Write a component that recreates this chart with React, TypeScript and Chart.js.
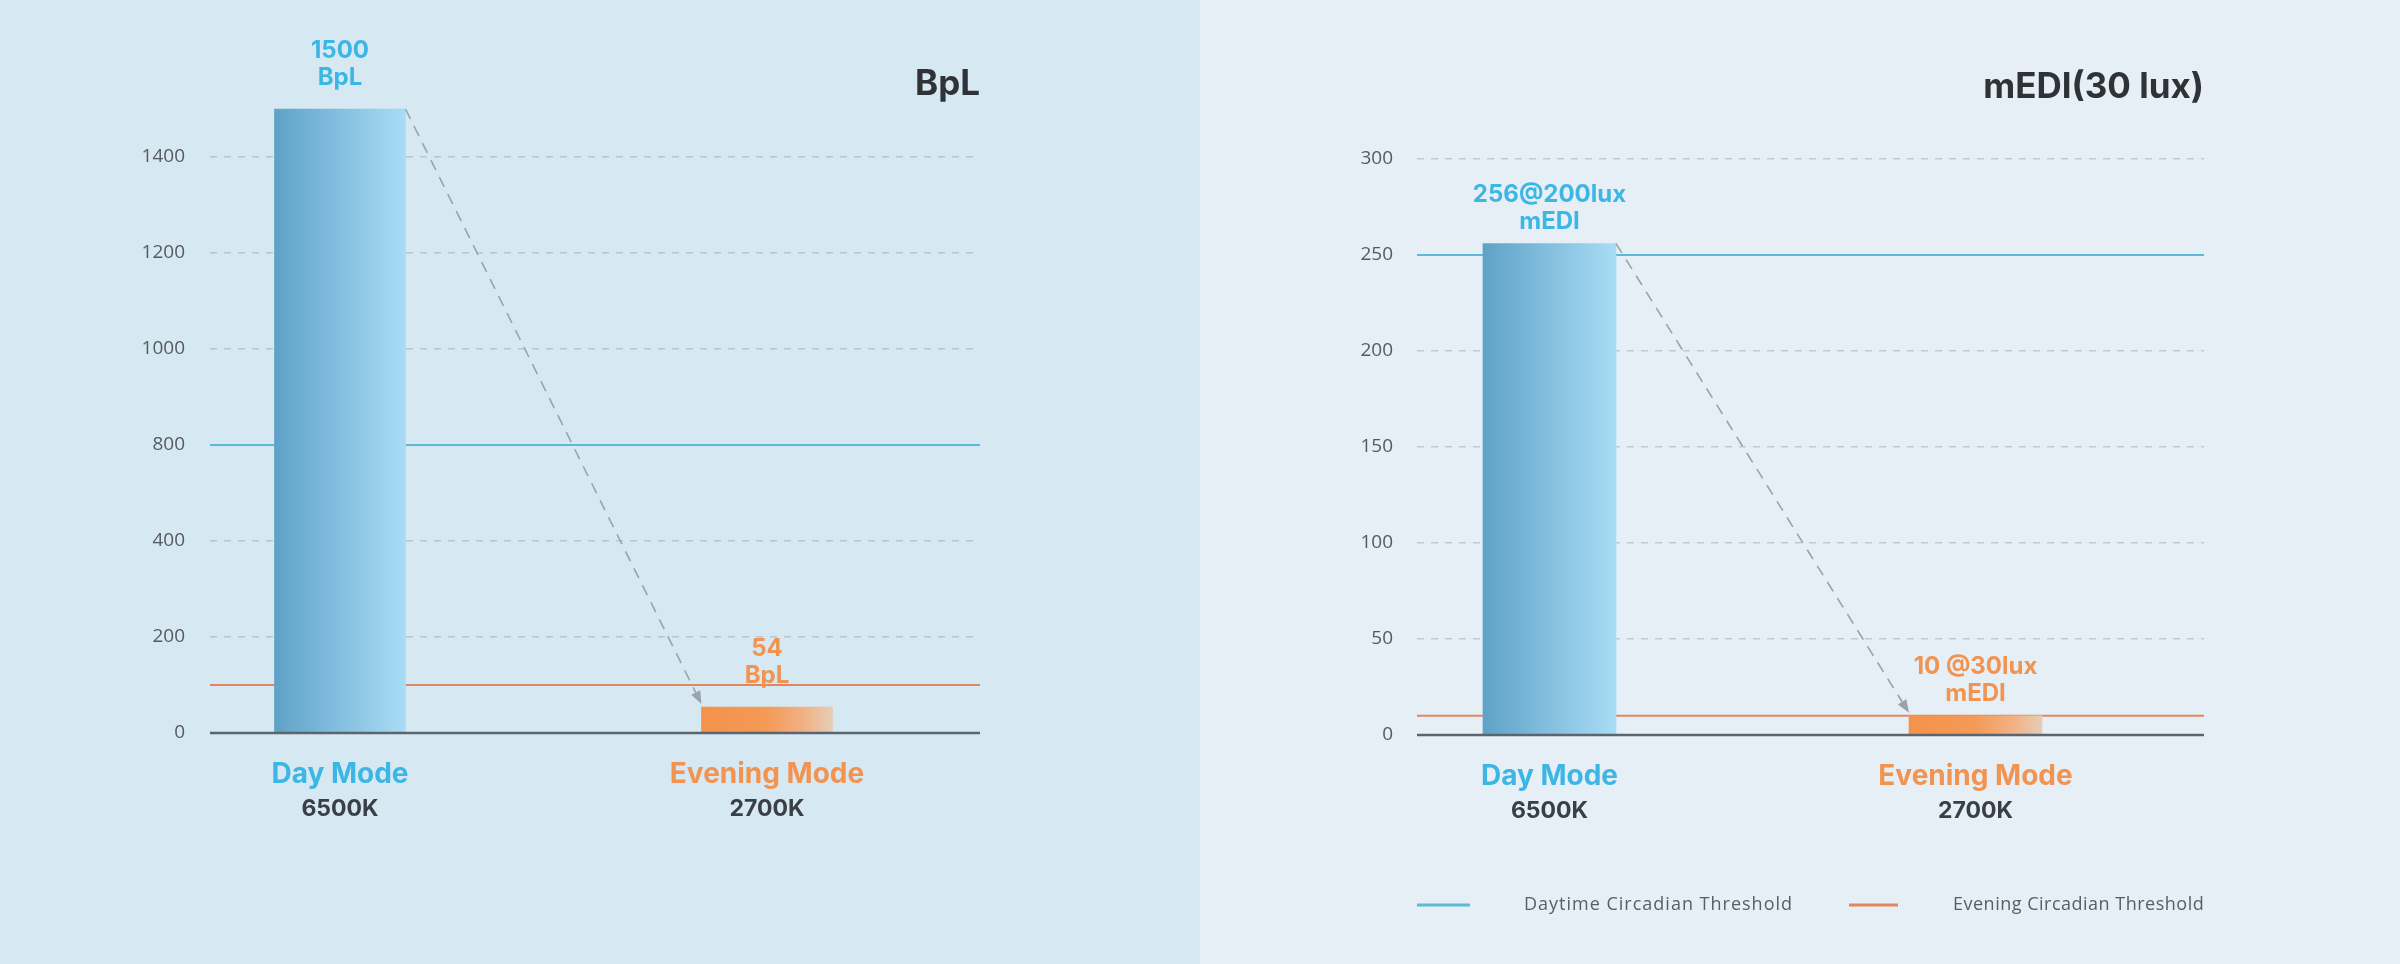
import React, { useEffect, useRef } from 'react';
import { Chart, registerables } from 'chart.js';

Chart.register(...registerables);

// ---------- data ----------
const categories = ['Day Mode', 'Evening Mode'];
const colorTemps = ['6500K', '2700K'];

const bplValues = [1500, 54];
const bplValueLabels = [['1500', 'BpL'], ['54', 'BpL']];
const bplTicks = [0, 200, 400, 800, 1000, 1200, 1400];
const bplThresholds = [800, 100];
const bplTitle = 'BpL';

const mediValues = [256, 10];
const mediValueLabels = [['256@200lux', 'mEDI'], ['10 @30lux', 'mEDI']];
const mediTicks = [0, 50, 100, 150, 200, 250, 300];
const mediThresholds = [250, 10];
const mediTitle = 'mEDI(30 lux)';

const legendLabels = ['Daytime Circadian Threshold', 'Evening Circadian Threshold'];

// ---------- styles ----------
const W = 1200;
const H = 964;
const BLUE_TEXT = '#3cb6e4';
const ORANGE_TEXT = '#f29350';
const THRESH_COLORS = ['#5cb9d9', '#e0875e'];
const CAT_COLORS = [BLUE_TEXT, ORANGE_TEXT];
const GRADS: [number, string][][] = [
  [[0, '#5fa2c7'], [0.5, '#84bfdf'], [1, '#a9dcf5']],
  [[0, '#f4924b'], [0.5, '#f49a57'], [0.78, '#f1b184'], [1, '#e6cdb8']],
];
const FONT = 'Inter, "Open Sans", sans-serif';

// map a value onto the (non-uniform) tick index axis
function toAxis(v: number, ticks: number[]): number {
  for (let i = 0; i < ticks.length - 1; i++) {
    if (v <= ticks[i + 1]) return i + (v - ticks[i]) / (ticks[i + 1] - ticks[i]);
  }
  const n = ticks.length - 1;
  return n + (v - ticks[n]) / (ticks[n] - ticks[n - 1]);
}

type Layout = {
  left: number; right: number; bottom: number; c0: number; c1: number;
  barW: number; labelRight: number; titleY: number; labelGap: number;
};

type PanelProps = {
  values: number[];
  valueLabels: string[][];
  ticks: number[];
  thresholds: number[];
  title: string;
  showLegend: boolean;
  layout: Layout;
  bg: string;
};

function Panel({ values, valueLabels, ticks, thresholds, title, showLegend, layout: L, bg }: PanelProps) {
  const ref = useRef<HTMLCanvasElement | null>(null);

  useEffect(() => {
    if (!ref.current) return;
    const span = L.c1 - L.c0;
    const xMin = -(L.c0 - L.left) / span;
    const xMax = 1 + (L.right - L.c1) / span;
    const yMax = 7.5;
    const top = L.bottom - 96 * yMax;

    const overlay = {
      id: 'overlay',
      beforeDatasetsDraw(chart: any) {
        const { ctx, chartArea } = chart;
        const ys = chart.scales.y;
        ctx.save();
        thresholds.forEach((t, i) => {
          const y = ys.getPixelForValue(toAxis(t, ticks));
          ctx.strokeStyle = THRESH_COLORS[i];
          ctx.lineWidth = 2;
          ctx.beginPath();
          ctx.moveTo(chartArea.left, y);
          ctx.lineTo(chartArea.right, y);
          ctx.stroke();
        });
        ctx.restore();
      },
      afterDatasetsDraw(chart: any) {
        const { ctx, chartArea } = chart;
        const ys = chart.scales.y;
        const meta = chart.getDatasetMeta(0);
        const bars = meta.data;
        ctx.save();
        // baseline
        const y0 = ys.getPixelForValue(0);
        ctx.strokeStyle = '#5a6570';
        ctx.lineWidth = 2.5;
        ctx.beginPath();
        ctx.moveTo(chartArea.left, y0);
        ctx.lineTo(chartArea.right, y0);
        ctx.stroke();

        // dashed arrow
        const a = bars[0];
        const b = bars[1];
        const sx = a.x + a.width / 2;
        const sy = a.y;
        const ex = b.x - b.width / 2;
        const ey = b.y - 3;
        const ang = Math.atan2(ey - sy, ex - sx);
        const head = 13;
        const nx = Math.cos(ang + Math.PI / 2) * 5;
        const ny = Math.sin(ang + Math.PI / 2) * 5;
        ctx.strokeStyle = '#9aa3ab';
        ctx.lineWidth = 1.6;
        ctx.setLineDash([11, 8]);
        ctx.beginPath();
        ctx.moveTo(sx, sy);
        ctx.lineTo(ex - Math.cos(ang) * head, ey - Math.sin(ang) * head);
        ctx.stroke();
        ctx.setLineDash([]);
        ctx.fillStyle = '#9aa3ab';
        ctx.beginPath();
        ctx.moveTo(ex, ey);
        ctx.lineTo(ex - Math.cos(ang) * head + nx, ey - Math.sin(ang) * head + ny);
        ctx.lineTo(ex - Math.cos(ang) * head - nx, ey - Math.sin(ang) * head - ny);
        ctx.closePath();
        ctx.fill();

        // value labels above bars
        ctx.textAlign = 'center';
        ctx.textBaseline = 'middle';
        ctx.font = `700 24px ${FONT}`;
        bars.forEach((bar: any, i: number) => {
          const lines = valueLabels[i];
          ctx.fillStyle = CAT_COLORS[i];
          lines.forEach((ln, k) => {
            ctx.fillText(ln, bar.x, bar.y - L.labelGap - (lines.length - 1 - k) * 27);
          });
        });

        // category labels
        bars.forEach((bar: any, i: number) => {
          ctx.fillStyle = CAT_COLORS[i];
          ctx.font = `700 28px ${FONT}`;
          ctx.fillText(categories[i], bar.x, y0 + 42);
          ctx.fillStyle = '#3a3f45';
          ctx.font = `700 23px ${FONT}`;
          ctx.fillText(colorTemps[i], bar.x, y0 + 76);
        });

        // title
        ctx.textAlign = 'right';
        ctx.fillStyle = '#2f3337';
        ctx.font = `700 35px ${FONT}`;
        ctx.fillText(title, chartArea.right, L.titleY);

        // legend
        if (showLegend) {
          const ly = y0 + 170;
          ctx.font = `400 18px "Open Sans", sans-serif`;
          ctx.fillStyle = '#5a5e62';
          ctx.textAlign = 'left';
          ctx.lineWidth = 3;
          ctx.strokeStyle = THRESH_COLORS[0];
          ctx.beginPath();
          ctx.moveTo(chartArea.left, ly);
          ctx.lineTo(chartArea.left + 53, ly);
          ctx.stroke();
          (ctx as any).letterSpacing = '1px';
          ctx.fillText(legendLabels[0], chartArea.left + 107, ly);
          ctx.strokeStyle = THRESH_COLORS[1];
          ctx.beginPath();
          ctx.moveTo(chartArea.left + 432, ly);
          ctx.lineTo(chartArea.left + 481, ly);
          ctx.stroke();
          (ctx as any).letterSpacing = '0.5px';
          ctx.fillText(legendLabels[1], chartArea.left + 536, ly);
          (ctx as any).letterSpacing = '0px';
        }
        ctx.restore();
      },
    };

    const chart = new Chart(ref.current, {
      type: 'bar',
      data: {
        datasets: [
          {
            data: values.map((v, i) => ({ x: i, y: toAxis(v, ticks) })),
            barThickness: L.barW,
            borderWidth: 0,
            clip: false as any,
            backgroundColor: (c: any) => {
              const idx = c.dataIndex ?? 0;
              const stops = GRADS[idx] || GRADS[0];
              const xs = c.chart.scales.x;
              if (!xs || !c.parsed || c.type !== 'data') return stops[0][1];
              const cx = xs.getPixelForValue(c.parsed.x);
              if (!Number.isFinite(cx)) return stops[0][1];
              const g = c.chart.ctx.createLinearGradient(cx - L.barW / 2, 0, cx + L.barW / 2, 0);
              stops.forEach(([o, col]) => g.addColorStop(o, col));
              return g;
            },
          } as any,
        ],
      },
      options: {
        responsive: false,
        animation: false,
        devicePixelRatio: 1,
        layout: { padding: { left: 0, right: W - L.right, top, bottom: H - L.bottom } },
        plugins: { legend: { display: false }, tooltip: { enabled: false } },
        scales: {
          x: { type: 'linear', display: false, offset: false, min: xMin, max: xMax, grid: { offset: false } },
          y: {
            type: 'linear',
            min: 0,
            max: yMax,
            afterBuildTicks: (s: any) => {
              s.ticks = ticks.map((_, i) => ({ value: i }));
            },
            afterFit: (s: any) => {
              s.width = L.left;
              s.paddingTop = 0;
              s.paddingBottom = 0;
            },
            ticks: {
              callback: (v: any) => (ticks[v] !== undefined ? String(ticks[v]) : ''),
              padding: L.left - L.labelRight,
              color: '#575b60',
              font: { family: '"Open Sans", sans-serif', size: 19, weight: 400 as any },
            },
            grid: {
              drawTicks: false,
              lineWidth: 1.5,
              color: (c: any) => (c.tick && c.tick.value === 0 ? 'rgba(0,0,0,0)' : 'rgba(150,166,180,0.5)'),
            },
            border: { display: false, dash: [7, 7] },
          },
        },
      } as any,
      plugins: [overlay],
    });
    chart.update();
    return () => chart.destroy();
  }, []);

  return (
    <div style={{ width: W, height: H, background: bg }}>
      <canvas ref={ref} width={W} height={H} style={{ display: 'block', width: W, height: H }} />
    </div>
  );
}

const leftLayout: Layout = { left: 210, right: 980, bottom: 733, c0: 340, c1: 767, barW: 131, labelRight: 185, titleY: 84, labelGap: 31 };
const rightLayout: Layout = { left: 217, right: 1004, bottom: 735, c0: 349.5, c1: 775.5, barW: 133, labelRight: 193, titleY: 87, labelGap: 22 };

export default function App() {
  useEffect(() => {
    document.body.style.margin = '0';
  }, []);
  return (
    <div style={{ position: 'absolute', left: 0, top: 0, width: 2400, height: 964, display: 'flex' }}>
      <Panel
        values={bplValues}
        valueLabels={bplValueLabels}
        ticks={bplTicks}
        thresholds={bplThresholds}
        title={bplTitle}
        showLegend={false}
        layout={leftLayout}
        bg="#d6e8f2"
      />
      <Panel
        values={mediValues}
        valueLabels={mediValueLabels}
        ticks={mediTicks}
        thresholds={mediThresholds}
        title={mediTitle}
        showLegend={true}
        layout={rightLayout}
        bg="#e6eff6"
      />
    </div>
  );
}
